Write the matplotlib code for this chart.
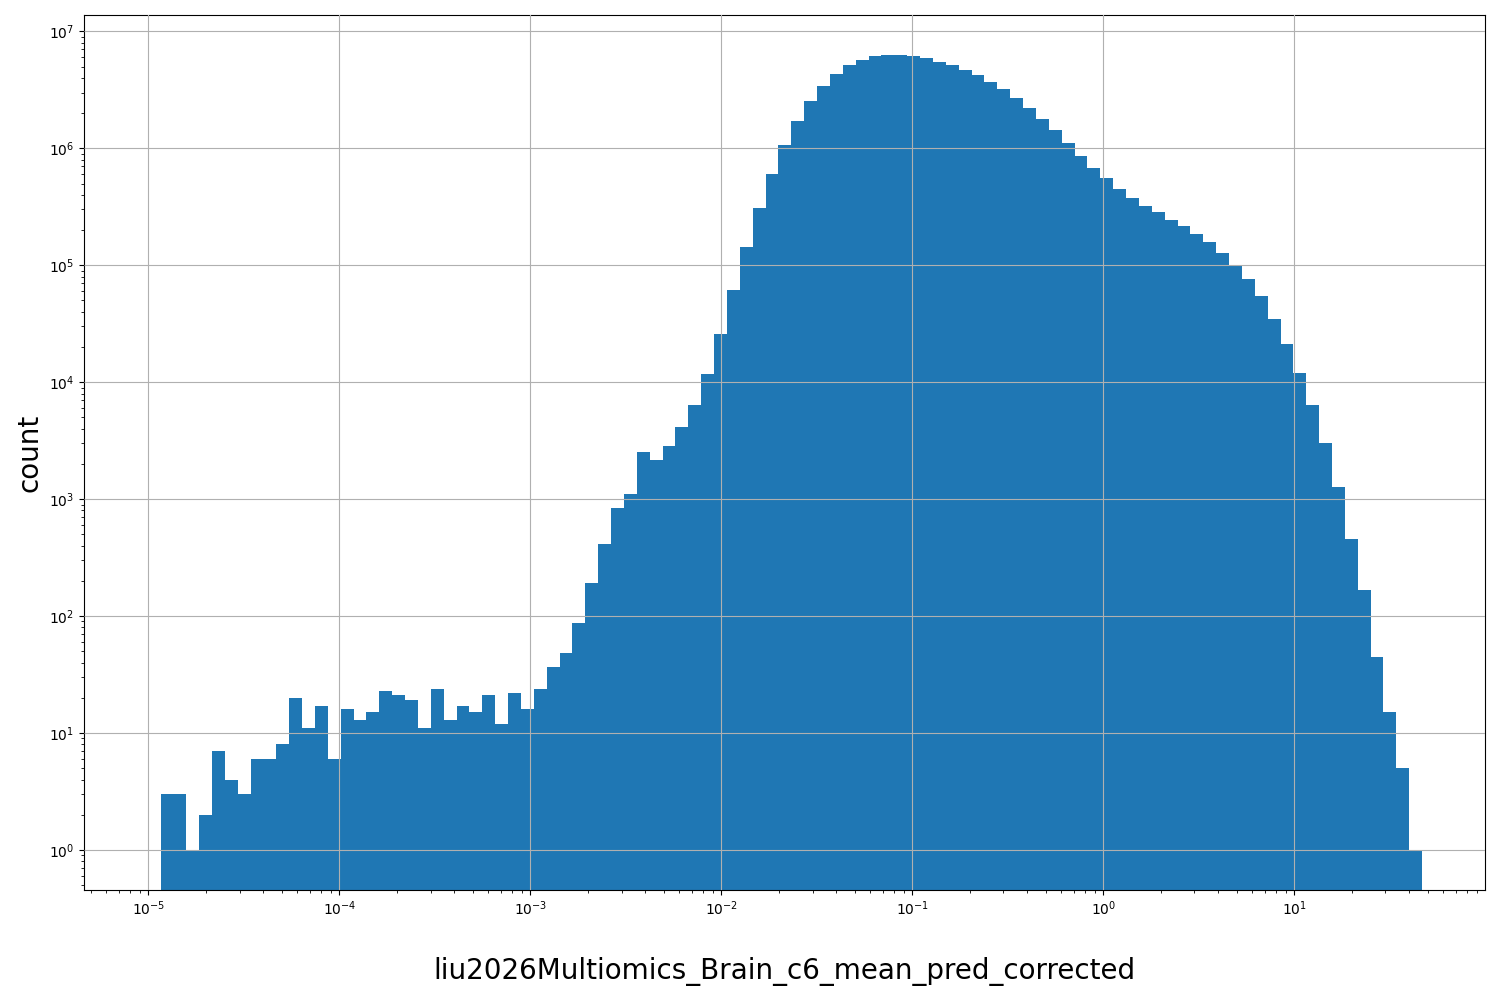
import numpy as np
import matplotlib
matplotlib.use("Agg")
import matplotlib.pyplot as plt

# log10 of the first and last bin edge (99 log-spaced bins)
log_lo, log_hi = -5.004, 1.669
n_bins = 99

counts = [0,
          3, 3, 1, 2, 7, 4, 3, 6, 6, 8,
          20, 11, 17, 6, 16, 13, 15, 23, 21, 19,
          11, 24, 13, 17, 15, 21, 12, 22, 16, 24,
          37, 48, 87, 192, 415, 843, 1110, 2540, 2170, 2860,
          4150, 6410, 11700, 25900, 61700, 144000, 310000, 607000, 1070000, 1720000,
          2550000, 3430000, 4350000, 5190000, 5720000, 6200000, 6310000, 6310000, 6200000, 5960000,
          5500000, 5190000, 4700000, 4260000, 3720000, 3240000, 2710000, 2220000, 1790000, 1420000,
          1120000, 865000, 683000, 552000, 450000, 377000, 322000, 283000, 246000, 218000,
          186000, 159000, 128000, 101000, 75600, 54100, 34900, 21300, 12000, 6440,
          3040, 1280, 460, 166, 45, 15, 5, 1]

xlabel = 'liu2026Multiomics_Brain_c6_mean_pred_corrected'

edges = np.logspace(log_lo, log_hi, n_bins + 1)
centers = np.sqrt(edges[:-1] * edges[1:])

fig, ax = plt.subplots(figsize=(15, 10), dpi=100)
ax.hist(centers, bins=edges, weights=counts, color='#1f77b4')
ax.set_xscale('log')
ax.set_yscale('log')
ax.set_xlim(4.6e-6, 99.6)
ax.set_ylim(0.455, 1.38e7)
ax.grid(True)
ax.set_axisbelow(False)
ax.set_xlabel(xlabel, fontsize=20, labelpad=28)
ax.set_ylabel('count', fontsize=20)

plt.subplots_adjust(left=0.056, right=0.99, top=0.985, bottom=0.11)
plt.savefig('out.png')
